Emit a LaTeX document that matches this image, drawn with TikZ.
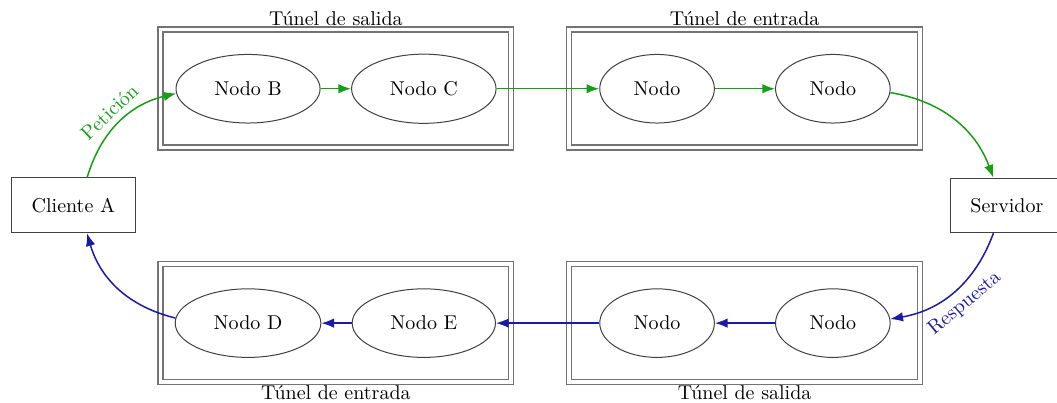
\documentclass[tikz,border=0pt]{standalone}
\usepackage{tikz}
\usetikzlibrary{arrows.meta,shapes.geometric}

\definecolor{verdeida}{RGB}{20,160,20}
\definecolor{azulvuelta}{RGB}{25,25,170}

\begin{document}
\begin{tikzpicture}[>=Latex,
    nodo/.style={ellipse, draw=black!75, line width=0.5pt, inner sep=8.6pt},
    equipo/.style={rectangle, draw=black!75, line width=0.5pt, inner sep=10pt},
    tunel/.style={rectangle, draw=black!55, line width=0.6pt, double,
                  double distance=1.9pt, minimum width=175.5pt, minimum height=59pt},
    ida/.style={->, line width=0.75pt, verdeida},
    vuelta/.style={->, line width=0.75pt, azulvuelta}]
  % Page frame: 18.58 x 7.08 cm, origin at the top left corner
  \useasboundingbox (0,0) rectangle (18.58,-7.08);

  % --- tunnels (double frames) ---
  \node[tunel, label={[inner sep=1.5pt]above:Túnel de salida}]  (tsA) at (5.905,-1.555) {};
  \node[tunel, label={[inner sep=1.5pt]above:Túnel de entrada}] (teA) at (13.09,-1.555) {};
  \node[tunel, label={[inner sep=1pt]below:Túnel de entrada}] (teB) at (5.905,-5.68) {};
  \node[tunel, label={[inner sep=1pt]below:Túnel de salida}]  (tsB) at (13.09,-5.68) {};

  % --- end points ---
  \node[equipo] (cliente)  at (1.29,-3.61)  {Cliente A};
  \node[equipo] (servidor) at (17.70,-3.61) {Servidor};

  % --- relay nodes, outgoing path ---
  \node[nodo] (nodoB) at (4.36,-1.56)  {Nodo B};
  \node[nodo] (nodoC) at (7.45,-1.56)  {Nodo C};
  \node[nodo] (ent1)  at (11.55,-1.56) {Nodo};
  \node[nodo] (ent2)  at (14.64,-1.56) {Nodo};

  % --- relay nodes, return path ---
  \node[nodo] (nodoD) at (4.36,-5.68)  {Nodo D};
  \node[nodo] (nodoE) at (7.45,-5.68)  {Nodo E};
  \node[nodo] (sal1)  at (11.55,-5.68) {Nodo};
  \node[nodo] (sal2)  at (14.64,-5.68) {Nodo};

  % --- request ---
  \draw[ida] (cliente) to[bend left] node[midway, above, sloped] {Petición} (nodoB);
  \draw[ida] (nodoB) -- (nodoC);
  \draw[ida] (nodoC) -- (ent1);
  \draw[ida] (ent1) -- (ent2);
  \draw[ida] (ent2) to[bend left] (servidor);

  % --- response ---
  \draw[vuelta] (servidor) to[bend left] node[midway, below, sloped] {Respuesta} (sal2);
  \draw[vuelta] (sal2) -- (sal1);
  \draw[vuelta] (sal1) -- (nodoE);
  \draw[vuelta] (nodoE) -- (nodoD);
  \draw[vuelta] (nodoD) to[bend left] (cliente);

\end{tikzpicture}
\end{document}
